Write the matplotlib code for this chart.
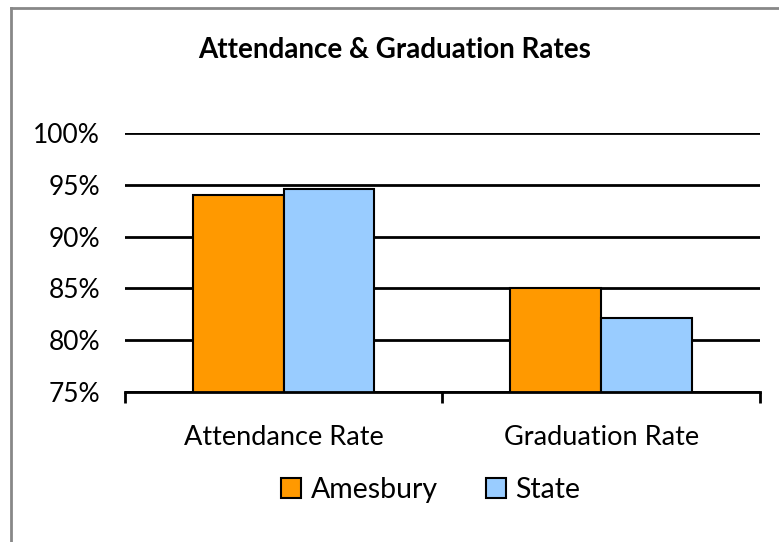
import numpy as np
import matplotlib.pyplot as plt
from matplotlib.lines import Line2D
from matplotlib.ticker import FuncFormatter

plt.rcParams['font.family'] = ['Lato', 'DejaVu Sans']

categories = ['Attendance Rate', 'Graduation Rate']
series_names = ['Amesbury', 'State']
amesbury = [94.0, 85.0]
state = [94.6, 82.1]
colors = ['#FF9900', '#99CCFF']

fig = plt.figure(figsize=(7.79, 5.42), dpi=100)
ax = fig.add_axes([0.1605, 0.2768, 0.815, 0.4778])

x = np.arange(len(categories))
w = 1 / 3.5  # gap width 150%
ax.bar(x - w / 2, amesbury, w, color=colors[0], edgecolor='black',
       linewidth=1.5, label=series_names[0], zorder=3)
ax.bar(x + w / 2, state, w, color=colors[1], edgecolor='black',
       linewidth=1.5, label=series_names[1], zorder=3)

ax.set_ylim(75, 100)
ax.set_xlim(-0.5, len(categories) - 0.5)
ax.set_yticks([75, 80, 85, 90, 95, 100])
ax.yaxis.set_major_formatter(FuncFormatter(lambda v, p: f'{v:.0f}%'))
ax.yaxis.grid(True, color='black', linewidth=2, zorder=0)
ax.tick_params(axis='y', length=0, pad=18, labelsize=19)

ax.set_xticks(x)
ax.set_xticklabels(categories, fontsize=19.5)
ax.tick_params(axis='x', length=0, pad=24)
ax.set_xticks([-0.5, 0.5, 1.5], minor=True)
ax.tick_params(axis='x', which='minor', length=8, width=2, direction='out')

for s in ['top', 'right', 'left']:
    ax.spines[s].set_visible(False)
ax.spines['bottom'].set_linewidth(2)
ax.spines['bottom'].set_zorder(4)

fig.text(0.507, 0.908, 'Attendance & Graduation Rates', ha='center',
         va='center', fontsize=20, fontweight='bold')

leg = fig.legend(loc='center', bbox_to_anchor=(0.553, 0.096), ncol=2,
                 frameon=False, fontsize=20.5, handlelength=0.7,
                 handleheight=0.7, handletextpad=0.32, columnspacing=1.7)

# outer chart border (only left/top visible in the crop)
fig.add_artist(Line2D([0.0135, 0.0135], [0, 0.985], color='#888888',
                      linewidth=2, transform=fig.transFigure))
fig.add_artist(Line2D([0.0135, 1], [0.985, 0.985], color='#888888',
                      linewidth=2, transform=fig.transFigure))

fig.savefig('out.png', dpi=100)
